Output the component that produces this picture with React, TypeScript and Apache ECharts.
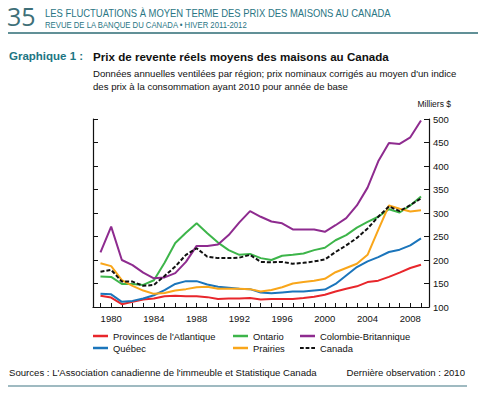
import React, { useEffect, useRef } from "react";
import * as echarts from "echarts";

const years = [
  1979, 1980, 1981, 1982, 1983, 1984, 1985, 1986, 1987, 1988, 1989, 1990, 1991, 1992, 1993, 1994,
  1995, 1996, 1997, 1998, 1999, 2000, 2001, 2002, 2003, 2004, 2005, 2006, 2007, 2008, 2009,
];
const labelYears = [1980, 1984, 1988, 1992, 1996, 2000, 2004, 2008];

const atlantique = [124, 120, 106, 111, 116, 118, 123, 124, 123, 123, 121, 117, 118, 118, 119, 116, 117, 117, 117, 119, 122, 126, 133, 139, 144, 153, 156, 164, 173, 183, 190];
const quebec = [128, 127, 111, 113, 118, 125, 136, 149, 155, 155, 148, 143, 141, 139, 138, 131, 129, 131, 133, 133, 135, 137, 149, 167, 185, 197, 206, 217, 222, 231, 246];
const ontario = [165, 164, 149, 149, 147, 157, 194, 236, 258, 278, 257, 237, 221, 211, 213, 204, 200, 209, 211, 214, 221, 226, 242, 253, 269, 281, 292, 308, 301, 316, 335];
const prairies = [193, 187, 157, 145, 135, 128, 130, 135, 138, 142, 143, 139, 139, 139, 138, 133, 136, 142, 150, 153, 156, 160, 174, 183, 192, 211, 264, 316, 309, 303, 306];
const colombie = [216, 271, 200, 189, 173, 161, 163, 172, 196, 230, 230, 233, 253, 280, 304, 292, 282, 278, 265, 265, 265, 260, 274, 289, 316, 354, 410, 449, 447, 461, 497];
const canada = [175, 179, 154, 154, 145, 147, 166, 186, 211, 225, 207, 204, 204, 205, 211, 196, 195, 196, 192, 194, 197, 201, 217, 231, 247, 267, 292, 314, 304, 317, 331];

const FONT = "'Liberation Sans', Arial, sans-serif";
const LINE_ICON = "rect";
const DASH_ICON = "path://M0,0h4v2h-4z M6,0h4v2h-4z M12,0h4v2h-4z";

function pairs(vals: number[]) {
  return years.map((y, i) => [y, vals[i]]);
}

export default function App() {
  const ref = useRef<HTMLDivElement>(null);
  useEffect(() => {
    if (!ref.current) return;
    const chart = echarts.init(ref.current, null, { renderer: "svg" });
    const mk = (name: string, data: number[], color: string, dashed = false) => ({
      name,
      type: "line",
      data: pairs(data),
      symbol: "none",
      yAxisIndex: 0,
      lineStyle: { color, width: 2, type: dashed ? [4, 2] : "solid" },
      itemStyle: { color },
      z: dashed ? 3 : 2,
    });
    const legendBase = {
      orient: "vertical",
      top: 331,
      padding: 0,
      itemWidth: 15,
      itemHeight: 2.5,
      itemGap: 2,
      textStyle: { fontFamily: FONT, fontSize: 9.4, color: "#111", lineHeight: 10 },
      selectedMode: false,
    };
    const li = (name: string, dashed = false) => ({ name, icon: dashed ? DASH_ICON : LINE_ICON });
    chart.setOption({
      animation: false,
      grid: { left: 93, right: 49, top: 119, bottom: 89 },
      xAxis: {
        type: "value",
        min: 1978.3,
        max: 2009.75,
        axisLine: { show: true, lineStyle: { color: "#111", width: 1.2 } },
        axisTick: { show: true, inside: true, length: 4, customValues: years, lineStyle: { color: "#111" } },
        axisLabel: {
          customValues: labelYears,
          formatter: (v: number) => String(v),
          fontFamily: FONT,
          fontSize: 9.5,
          color: "#111",
          margin: 6,
        },
        splitLine: { show: false },
      },
      yAxis: [
        {
          type: "value",
          position: "right",
          min: 100,
          max: 500,
          interval: 50,
          axisLine: { show: true, lineStyle: { color: "#111", width: 1.2 } },
          axisTick: { show: true, inside: true, length: 5, lineStyle: { color: "#111" } },
          axisLabel: { fontFamily: FONT, fontSize: 9.5, color: "#111", margin: 4 },
          splitLine: { show: false },
        },
        {
          type: "value",
          position: "left",
          min: 100,
          max: 500,
          interval: 50,
          axisLine: { show: true, lineStyle: { color: "#111", width: 1.2 } },
          axisTick: { show: true, inside: true, length: 5, lineStyle: { color: "#111" } },
          axisLabel: { show: false },
          splitLine: { show: false },
        },
      ],
      legend: [
        { ...legendBase, left: 93, data: [li("Provinces de l'Atlantique"), li("Québec")] },
        { ...legendBase, left: 233, data: [li("Ontario"), li("Prairies")] },
        { ...legendBase, left: 300, data: [li("Colombie-Britannique"), li("Canada", true)] },
      ],
      series: [
        mk("Provinces de l'Atlantique", atlantique, "#e8262b"),
        mk("Québec", quebec, "#1b75bb"),
        mk("Ontario", ontario, "#3db54a"),
        mk("Prairies", prairies, "#f9a61a"),
        mk("Colombie-Britannique", colombie, "#8e2b8f"),
        mk("Canada", canada, "#111111", true),
      ],
      graphic: [
        { type: "text", left: 7, top: 3, style: { text: "35", fontFamily: "'Open Sans', sans-serif", fontSize: 25, fill: "#3e6f78" } },
        {
          type: "text",
          x: 45,
          y: 8,
          scaleX: 0.9,
          style: {
            text: "LES FLUCTUATIONS À MOYEN TERME DES PRIX DES MAISONS AU CANADA",
            fontFamily: FONT,
            fontSize: 10.5,
            fill: "#2a7684",
          },
        },
        {
          type: "text",
          x: 45,
          y: 20,
          scaleX: 0.86,
          style: {
            text: "REVUE DE LA BANQUE DU CANADA • HIVER 2011-2012",
            fontFamily: FONT,
            fontSize: 9,
            fill: "#2a7684",
          },
        },
        { type: "line", shape: { x1: 8, y1: 33, x2: 478, y2: 33 }, style: { stroke: "#2c6b75", lineWidth: 1.5 } },
        { type: "text", left: 9, top: 50, style: { text: "Graphique 1 :", fontFamily: FONT, fontSize: 11.5, fontWeight: "bold", fill: "#1d7683" } },
        {
          type: "text",
          left: 93,
          top: 50,
          style: { text: "Prix de revente réels moyens des maisons au Canada", fontFamily: FONT, fontSize: 11.6, fontWeight: "bold", fill: "#111" },
        },
        {
          type: "text",
          left: 93,
          top: 67,
          style: {
            text: "Données annuelles ventilées par région; prix nominaux corrigés au moyen d'un indice\ndes prix à la consommation ayant 2010 pour année de base",
            fontFamily: FONT,
            fontSize: 9.6,
            lineHeight: 13,
            fill: "#111",
          },
        },
        { type: "text", right: 27, top: 99, style: { text: "Milliers $", fontFamily: FONT, fontSize: 8.5, fill: "#111" } },
        {
          type: "text",
          left: 9,
          top: 367,
          style: { text: "Sources : L'Association canadienne de l'immeuble et Statistique Canada", fontFamily: FONT, fontSize: 9.6, fill: "#111" },
        },
        { type: "text", right: 13, top: 367, style: { text: "Dernière observation : 2010", fontFamily: FONT, fontSize: 9.6, fill: "#111" } },
        { type: "line", shape: { x1: 8, y1: 386, x2: 467, y2: 386 }, style: { stroke: "#7fa3ad", lineWidth: 1.5 } },
      ],
    });
    return () => chart.dispose();
  }, []);
  return <div ref={ref} style={{ position: "absolute", left: 0, top: 0, width: 478, height: 396 }} />;
}
